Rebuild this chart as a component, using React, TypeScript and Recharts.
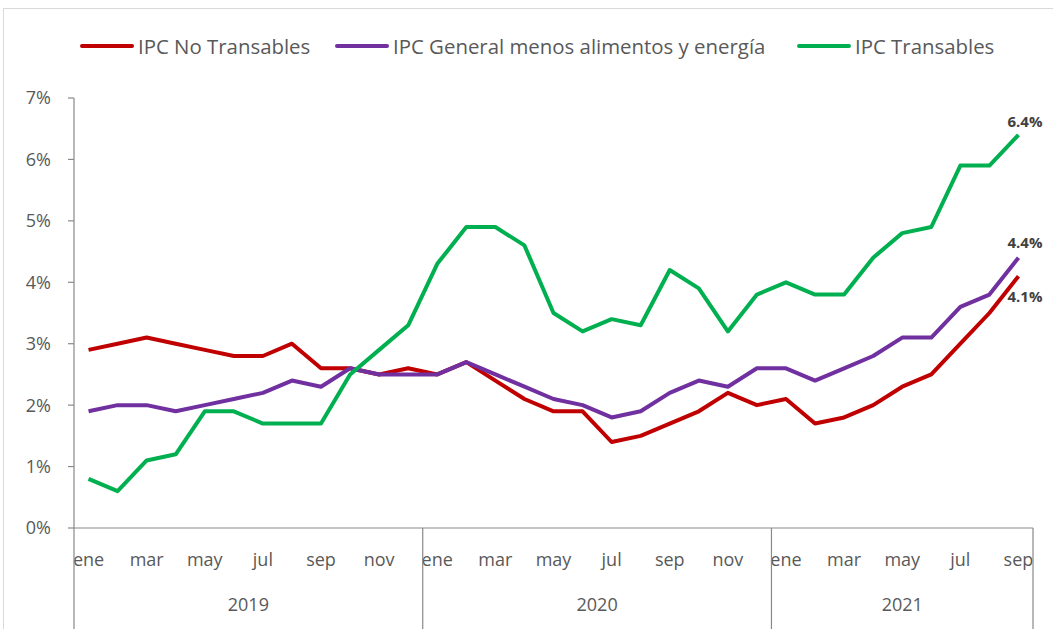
import React from "react";
import { ComposedChart, Line, XAxis, YAxis, Legend, LabelList } from "recharts";

const MONTHS = ["ene", "feb", "mar", "abr", "may", "jun", "jul", "ago", "sep", "oct", "nov", "dic"];
const YEARS = ["2019", "2020", "2021"];
const MONTHS_PER_YEAR = [12, 12, 9];
const Y_TICKS = [0, 1, 2, 3, 4, 5, 6, 7];

const NO_TRANSABLES = [
  2.9, 3.0, 3.1, 3.0, 2.9, 2.8, 2.8, 3.0, 2.6, 2.6, 2.5, 2.6,
  2.5, 2.7, 2.4, 2.1, 1.9, 1.9, 1.4, 1.5, 1.7, 1.9, 2.2, 2.0,
  2.1, 1.7, 1.8, 2.0, 2.3, 2.5, 3.0, 3.5, 4.1,
];
const SIN_ALIM_ENERGIA = [
  1.9, 2.0, 2.0, 1.9, 2.0, 2.1, 2.2, 2.4, 2.3, 2.6, 2.5, 2.5,
  2.5, 2.7, 2.5, 2.3, 2.1, 2.0, 1.8, 1.9, 2.2, 2.4, 2.3, 2.6,
  2.6, 2.4, 2.6, 2.8, 3.1, 3.1, 3.6, 3.8, 4.4,
];
const TRANSABLES = [
  0.8, 0.6, 1.1, 1.2, 1.9, 1.9, 1.7, 1.7, 1.7, 2.5, 2.9, 3.3,
  4.3, 4.9, 4.9, 4.6, 3.5, 3.2, 3.4, 3.3, 4.2, 3.9, 3.2, 3.8,
  4.0, 3.8, 3.8, 4.4, 4.8, 4.9, 5.9, 5.9, 6.4,
];

const SERIES = [
  { key: "noTrans", name: "IPC No Transables", color: "#C00000", labelDy: 26, legendX: 80 },
  { key: "sae", name: "IPC General menos alimentos y energía", color: "#7030A0", labelDy: -10, legendX: 335 },
  { key: "trans", name: "IPC Transables", color: "#00B050", labelDy: -8, legendX: 797 },
];

// category rows: one per month
const categories: { year: number; month: number }[] = [];
YEARS.forEach((_, yi) => {
  for (let m = 0; m < MONTHS_PER_YEAR[yi]; m++) categories.push({ year: yi, month: m });
});

const data = categories.map((c, i) => ({
  cat: `${MONTHS[c.month]}-${YEARS[c.year]}`,
  noTrans: NO_TRANSABLES[i],
  sae: SIN_ALIM_ENERGIA[i],
  trans: TRANSABLES[i],
}));

const W = 1053;
const H = 629;
const LEGEND_H = 30;
const MARGIN = { top: 98 - LEGEND_H, right: 20, bottom: 0, left: 0 };
const Y_AXIS_W = 74;
const X_AXIS_H = 101;
const N = data.length;
const STEP = (W - MARGIN.left - MARGIN.right - Y_AXIS_W) / N;
const FONT = "'Open Sans', 'Liberation Sans', sans-serif";
const TEXT = "#595959";
const AXIS = "#898989";

function CategoryTick(props: any) {
  const { x, y, payload } = props;
  const i = payload.index ?? props.index;
  const c = categories[i];
  if (!c) return null;
  const count = MONTHS_PER_YEAR[c.year];
  const center = (count - 1) / 2;
  const showYear = c.month === Math.floor(center);
  const yearX = x + (center - Math.floor(center)) * STEP;
  return (
    <g>
      {c.month % 2 === 0 && (
        <text x={x} y={y + 38} textAnchor="middle" fill={TEXT} fontSize={18} fontFamily={FONT}>
          {MONTHS[c.month]}
        </text>
      )}
      {showYear && (
        <text x={yearX} y={y + 83} textAnchor="middle" fill={TEXT} fontSize={18} fontFamily={FONT}>
          {YEARS[c.year]}
        </text>
      )}
      {c.month === 0 && (
        <line x1={x - STEP / 2} x2={x - STEP / 2} y1={y} y2={y + 110} stroke={AXIS} strokeWidth={1.2} />
      )}
      {i === N - 1 && (
        <line x1={x + STEP / 2} x2={x + STEP / 2} y1={y} y2={y + 110} stroke={AXIS} strokeWidth={1.2} />
      )}
    </g>
  );
}

function makeEndLabel(dy: number) {
  return (props: any) => {
    const { x, y, value, index } = props;
    if (index !== N - 1) return null;
    return (
      <text x={x - 11} y={y + dy} fill="#404040" fontSize={15} fontWeight="bold" fontFamily={FONT}>
        {`${Number(value).toFixed(1)}%`}
      </text>
    );
  };
}

function LegendContent() {
  return (
    <div style={{ position: "relative", height: LEGEND_H, width: W, fontFamily: FONT }}>
      {SERIES.map((s) => (
        <div key={s.key} style={{ position: "absolute", left: s.legendX, top: 0, display: "flex", alignItems: "center", height: LEGEND_H }}>
          <span style={{ display: "inline-block", width: 54, height: 4, background: s.color, borderRadius: 2 }} />
          <span style={{ marginLeft: 4, fontSize: 20.4, color: TEXT, whiteSpace: "nowrap" }}>{s.name}</span>
        </div>
      ))}
    </div>
  );
}

export default function App() {
  return (
    <div style={{ position: "absolute", left: 0, top: 0, width: W, height: H, overflow: "hidden", background: "#fff" }}>
      <div style={{ position: "absolute", left: 3, top: 8, width: W + 50, height: H + 50, border: "1px solid #d9d9d9" }} />
      <div style={{ position: "absolute", left: 0, top: 0 }}>
        <ComposedChart width={W} height={H} data={data} margin={MARGIN}>
          <Legend content={<LegendContent />} verticalAlign="top" wrapperStyle={{ top: 31, left: 0, width: W }} />
          <XAxis
            dataKey="cat"
            interval={0}
            padding={{ left: STEP / 2, right: STEP / 2 }}
            tickLine={false}
            tickSize={0}
            tickMargin={0}
            height={X_AXIS_H}
            axisLine={{ stroke: AXIS, strokeWidth: 1.2 }}
            tick={<CategoryTick />}
          />
          <YAxis
            domain={[0, 7]}
            ticks={Y_TICKS}
            width={Y_AXIS_W}
            tickSize={6}
            tickMargin={17}
            tickFormatter={(v: number) => `${v}%`}
            axisLine={{ stroke: AXIS, strokeWidth: 1.2 }}
            tickLine={{ stroke: AXIS, strokeWidth: 1.2 }}
            tick={{ fill: TEXT, fontSize: 18, fontFamily: FONT }}
          />
          {SERIES.map((s) => (
            <Line
              key={s.key}
              dataKey={s.key}
              name={s.name}
              type="linear"
              stroke={s.color}
              strokeWidth={4}
              dot={false}
              activeDot={false}
              strokeLinejoin="round"
              isAnimationActive={false}
            >
              <LabelList dataKey={s.key} content={makeEndLabel(s.labelDy)} />
            </Line>
          ))}
        </ComposedChart>
      </div>
    </div>
  );
}
